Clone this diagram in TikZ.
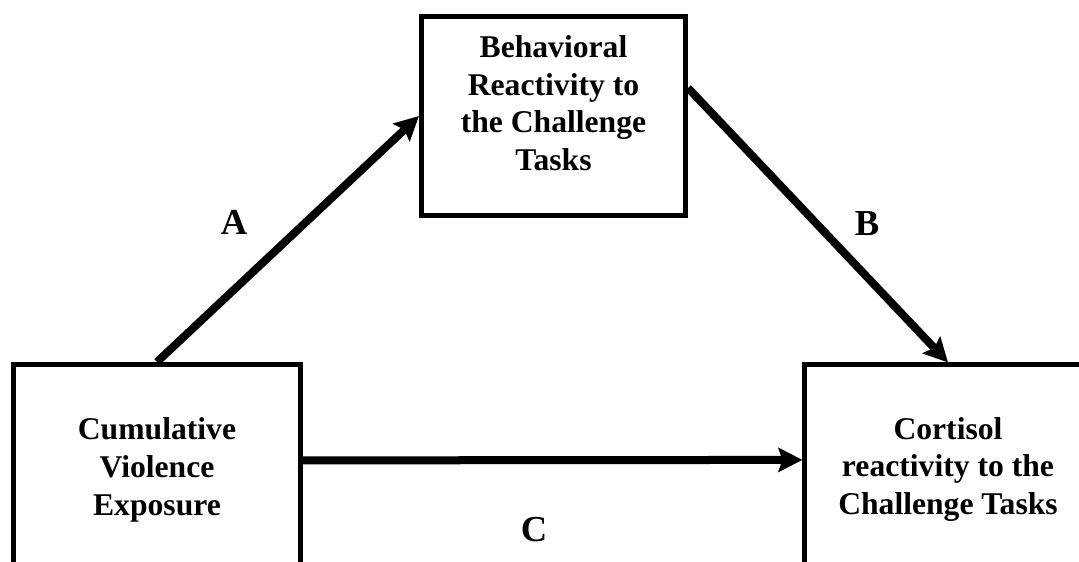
\documentclass[tikz,border=0pt]{standalone}
\usepackage{fontspec}
\setmainfont{Liberation Serif}
\usetikzlibrary{arrows.meta,positioning}
\tikzset{
  % Base box
  VB/.style={rectangle,draw,line width=0.125cm,align=center,
             font=\fontsize{22.5}{26.8}\selectfont\bfseries},
  % Arrow
  arr/.style={-{Stealth[length=0.6cm,width=0.6cm,inset=0.1cm]},line width=0.2cm},
  % Path label
  LB/.style={font=\fontsize{26}{30}\selectfont\bfseries}
}

\begin{document}
\begin{tikzpicture}[x=0.025cm,y=-0.025cm]
  \useasboundingbox (0,0) rectangle (1079,561);
  \clip (0,0) rectangle (1079,561);

  \node[VB,minimum width=6.6cm,minimum height=4.975cm,text depth=0.65cm] (beh) at (553.5,116)
       {Behavioral\\Reactivity to\\the Challenge\\Tasks};
  \node[VB,minimum width=7.175cm,minimum height=5.275cm] (cum) at (157,470)
       {Cumulative\\Violence\\Exposure};
  \node[VB,minimum width=7.15cm,minimum height=5.225cm] (cor) at (948,469.5)
       {Cortisol\\reactivity to the\\Challenge Tasks};

  \node[LB] (lA) at (234,222) {A};
  \node[LB] (lB) at (867,224) {B};
  \node[LB] (lC) at (534,530) {C};

  \draw[arr] (cum.north) -- (beh.west);
  \draw[arr] ([yshift=0.7cm]beh.east) -- (cor.north);
  \draw[arr] ([yshift=0.24cm]cum.east) -- ([yshift=0.24cm]cor.west);
\end{tikzpicture}
\end{document}
